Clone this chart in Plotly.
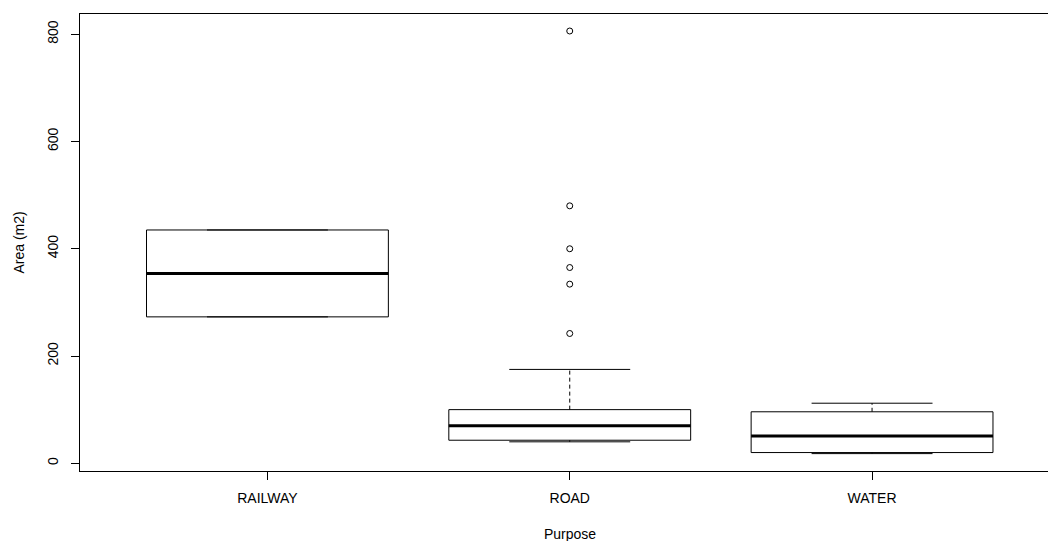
import plotly.graph_objects as go

# Summary statistics per purpose (R-style boxplot: whisker ends, hinges, median)
purposes = ["RAILWAY", "ROAD", "WATER"]
lower_whisker = [273, 40, 18]
q1 = [273, 43, 20]
median = [354, 70, 51]
q3 = [435, 100, 96]
upper_whisker = [435, 175, 112]

# Outlying observations (ROAD only)
outlier_purpose = ["ROAD", "ROAD", "ROAD", "ROAD", "ROAD", "ROAD"]
outlier_area = [806, 480, 400, 365, 334, 242]

y_ticks = [0, 200, 400, 600, 800]

FONT = "Liberation Sans, Arial, sans-serif"
HALF_BOX = 0.4     # box width 0.8 category units
HALF_CAP = 0.2     # staple width half of the box
INK = "#000000"

fig = go.Figure()
pos = {p: i + 1 for i, p in enumerate(purposes)}

for i, p in enumerate(purposes):
    c = pos[p]
    # dashed whiskers
    for lo, hi in ((q3[i], upper_whisker[i]), (lower_whisker[i], q1[i])):
        fig.add_trace(go.Scatter(
            x=[c, c], y=[lo, hi], mode="lines",
            line=dict(color=INK, width=1, dash="4px,3px"),
            hoverinfo="skip", showlegend=False))
    # staples
    for w in (upper_whisker[i], lower_whisker[i]):
        fig.add_trace(go.Scatter(
            x=[c - HALF_CAP, c + HALF_CAP], y=[w, w], mode="lines",
            line=dict(color=INK, width=1),
            hoverinfo="skip", showlegend=False))
    # box outline
    fig.add_trace(go.Scatter(
        x=[c - HALF_BOX, c + HALF_BOX, c + HALF_BOX, c - HALF_BOX, c - HALF_BOX],
        y=[q1[i], q1[i], q3[i], q3[i], q1[i]], mode="lines",
        line=dict(color=INK, width=1),
        hoverinfo="skip", showlegend=False))
    # median bar
    fig.add_trace(go.Scatter(
        x=[c - HALF_BOX, c + HALF_BOX], y=[median[i], median[i]], mode="lines",
        line=dict(color=INK, width=3),
        hoverinfo="skip", showlegend=False))

fig.add_trace(go.Scatter(
    x=[pos[p] for p in outlier_purpose], y=outlier_area, mode="markers",
    marker=dict(symbol="circle-open", size=6, color=INK, line=dict(width=1, color=INK)),
    hoverinfo="skip", showlegend=False))

fig.update_layout(
    width=1048, height=541,
    margin=dict(l=80, r=0, t=14, b=70),
    paper_bgcolor="white", plot_bgcolor="white",
    font=dict(family=FONT, size=14, color=INK),
    showlegend=False,
    xaxis=dict(
        range=[0.38, 3.582],
        tickmode="array", tickvals=[pos[p] for p in purposes], ticktext=purposes,
        ticks="outside", ticklen=8, tickwidth=1, tickcolor=INK,
        ticklabelstandoff=6,
        showline=True, linecolor=INK, linewidth=1, mirror=True,
        showgrid=False, zeroline=False,
    ),
    yaxis=dict(
        range=[-14.4, 837.7],
        tickmode="array", tickvals=y_ticks,
        tickangle=-90,
        ticks="outside", ticklen=8, tickwidth=1, tickcolor=INK,
        ticklabelstandoff=7,
        showline=True, linecolor=INK, linewidth=1, mirror=False,
        showgrid=False, zeroline=False,
    ),
    annotations=[
        dict(text="Area (m2)", textangle=-90, xref="paper", yref="paper",
             x=0, y=0.5, xanchor="center", yanchor="middle", xshift=-62,
             showarrow=False, font=dict(family=FONT, size=14, color=INK)),
        dict(text="Purpose", xref="x", yref="paper",
             x=2.0, y=0, xanchor="center", yanchor="middle", yshift=-63,
             showarrow=False, font=dict(family=FONT, size=14, color=INK)),
    ],
)

fig.write_html("out.html")
